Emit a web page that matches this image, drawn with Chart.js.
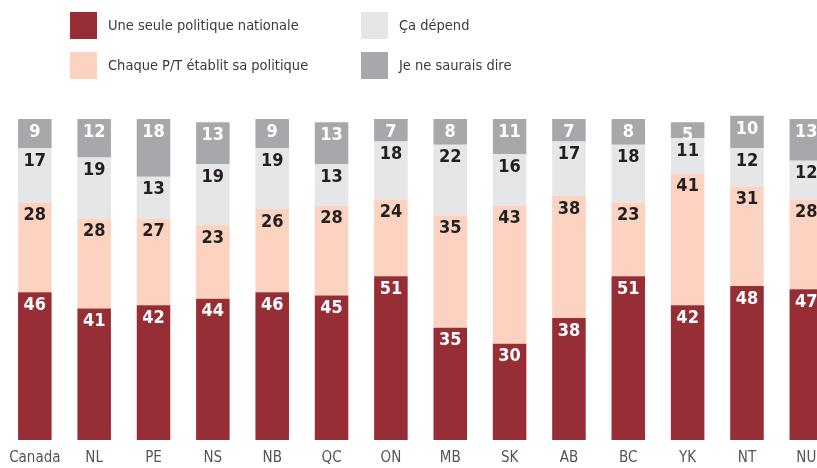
<!DOCTYPE html>
<html>
<head>
<meta charset="utf-8">
<script src="https://cdn.jsdelivr.net/npm/chart.js@4"></script>
<style>
  html, body { margin: 0; padding: 0; background: #fff; overflow: hidden; }
  #wrap { position: relative; width: 817px; height: 468px; overflow: hidden; }
  #c { position: absolute; left: 0; top: 0; }
  .leg { position: absolute; font-family: 'Liberation Sans Narrow', 'DejaVu Sans Condensed', sans-serif; font-size: 14.5px; color: #3a3a3a; line-height: 27px; white-space: nowrap; }
  .leg span { display: inline-block; width: 27px; height: 27px; vertical-align: top; margin-right: 11px; }
</style>
</head>
<body>
<div id="wrap">
  <canvas id="c" width="840" height="476"></canvas>
  <div id="legend"></div>
</div>
<script>
const categories = ['Canada', 'NL', 'PE', 'NS', 'NB', 'QC', 'ON', 'MB', 'SK', 'AB', 'BC', 'YK', 'NT', 'NU'];
const seriesNames = ['Une seule politique nationale', 'Chaque P/T établit sa politique', 'Ça dépend', 'Je ne saurais dire'];
const nationale = [46, 41, 42, 44, 46, 45, 51, 35, 30, 38, 51, 42, 48, 47];
const chaquePT = [28, 28, 27, 23, 26, 28, 24, 35, 43, 38, 23, 41, 31, 28];
const caDepend = [17, 19, 13, 19, 19, 13, 18, 22, 16, 17, 18, 11, 12, 12];
const neSaisPas = [9, 12, 18, 13, 9, 13, 7, 8, 11, 7, 8, 5, 10, 13];

const colors = ['#982e35', '#fcd3c1', '#e5e6e8', '#a7a8ab'];
const labelColors = ['#ffffff', '#231f20', '#231f20', '#ffffff'];
const FONT = "'Liberation Sans Narrow', 'DejaVu Sans Condensed', sans-serif";

// légende en HTML, 2 colonnes
const legendPos = [[70, 12], [70, 52], [361, 12], [361, 52]];
let legendEl = document.getElementById('legend');
seriesNames.forEach(function (name, i) {
    let d = document.createElement('div');
    d.className = 'leg';
    d.style.left = legendPos[i][0] + 'px';
    d.style.top = legendPos[i][1] + 'px';
    d.innerHTML = '<span style="background:' + colors[i] + '"></span>' + name;
    legendEl.appendChild(d);
});

// étiquettes de valeur en haut de chaque segment
const valueLabels = {
    id: 'valueLabels',
    afterDatasetsDraw(chart) {
        let ctx = chart.ctx;
        ctx.save();
        ctx.font = 'bold 18px ' + FONT;
        ctx.textAlign = 'center';
        ctx.textBaseline = 'middle';
        chart.data.datasets.forEach(function (ds, i) {
            let meta = chart.getDatasetMeta(i);
            ctx.fillStyle = labelColors[i];
            meta.data.forEach(function (bar, j) {
                ctx.fillText(String(ds.data[j]), bar.x, bar.y + 13);
            });
        });
        ctx.restore();
    }
};

let ctx = document.getElementById('c').getContext('2d');
window.chart = new Chart(ctx, {
    type: 'bar',
    data: {
        labels: categories,
        datasets: [nationale, chaquePT, caDepend, neSaisPas].map(function (d, i) {
            return {
                label: seriesNames[i],
                data: d,
                backgroundColor: colors[i],
                borderWidth: 0,
                barPercentage: 0.565,
                categoryPercentage: 1
            };
        })
    },
    options: {
        responsive: false,
        animation: false,
        layout: { padding: { left: 4, right: 4, top: 103, bottom: 0 } },
        plugins: { legend: { display: false }, tooltip: { enabled: false } },
        scales: {
            x: {
                stacked: true,
                grid: { display: false, drawTicks: false },
                border: { display: false },
                ticks: { color: '#555', font: { family: FONT, size: 15 }, padding: 9, maxRotation: 0 }
            },
            y: {
                stacked: true,
                display: false,
                min: 0,
                max: 105
            }
        }
    },
    plugins: [valueLabels]
});
</script>
</body>
</html>
